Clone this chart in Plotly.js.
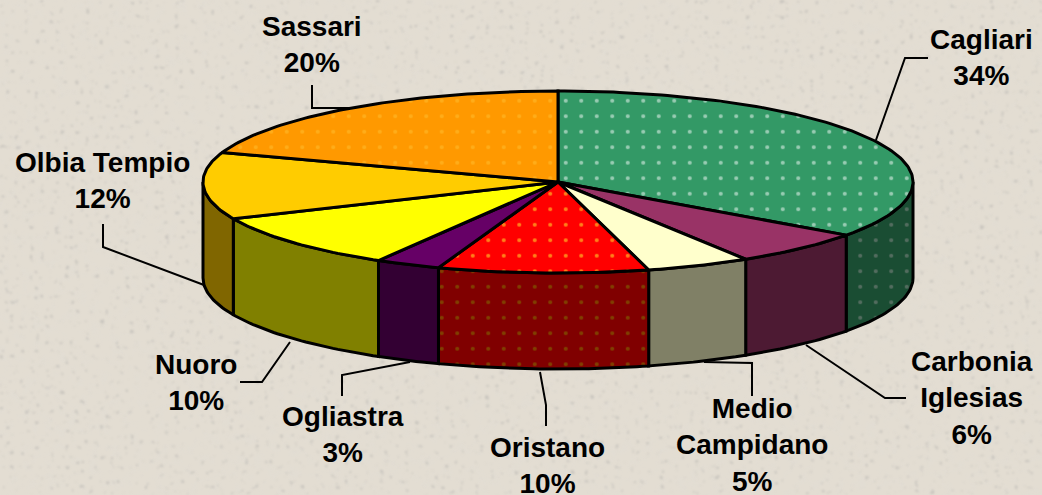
<!DOCTYPE html>
<html><head><meta charset="utf-8">
<script src="https://cdn.plot.ly/plotly-3.0.1.min.js"></script>
<style>
html,body{margin:0;padding:0;width:1042px;height:495px;overflow:hidden;background:#e2dcd1}
#bg{position:absolute;left:0;top:0}
#chart{position:absolute;left:0;top:0;width:1042px;height:495px}
</style></head><body>
<svg id="bg" width="1042" height="495" xmlns="http://www.w3.org/2000/svg">
<filter id="soft" x="0" y="0" width="100%" height="100%"><feTurbulence type="fractalNoise" baseFrequency="0.09" numOctaves="3" seed="7"/><feColorMatrix type="matrix" values="0 0 0 0 .72  0 0 0 0 .71  0 0 0 0 .69  1.5 0 0 0 -.62"/></filter>
<filter id="spec" x="0" y="0" width="100%" height="100%"><feTurbulence type="fractalNoise" baseFrequency="0.2" numOctaves="2" seed="23"/><feColorMatrix type="matrix" values="0 0 0 0 .45  0 0 0 0 .44  0 0 0 0 .42  9 0 0 0 -6.1"/><feGaussianBlur stdDeviation="0.8"/></filter>
<rect width="1042" height="495" fill="#e3ddd2"/>
<rect width="1042" height="495" filter="url(#soft)" opacity=".22"/>
<rect width="1042" height="495" filter="url(#spec)" opacity=".55"/>
</svg>
<div id="chart"></div>
<script>
// Data
const categories = ['Cagliari','Carbonia<br>Iglesias','Medio<br>Campidano','Oristano','Ogliastra','Nuoro','Olbia Tempio','Sassari'];
const values = [34, 6, 5, 10, 3, 10, 12, 20];

// Styles
const topColors  = ['#339966','#993366','#FFFFCC','#FF0000','#660066','#FFFF00','#FFCC00','#FF9900'];
const sideColors = ['#1A4D33','#4D1A33','#808066','#800000','#330033','#808000','#806600','#804D00'];
const dotTop  = ['#FFFFFF',null,null,'#FFFF33',null,null,null,'#FFC233'];
const dotSide = ['#8C8C8C',null,null,'#808000',null,null,null,'#808000'];

// Layout of the drawing (pixels of the hidden axes)
const cx = 558, cy = 182, rx = 355, ry = 91, depth = 96;
const labelPos = [[981,57],[972,398],[752,445],[547,465],[343,434],[196,382],[102,180],[312,44]];
const leaders = [
  [[876,140],[905,58],[928,58]],
  [[806,345],[885,398],[906,398]],
  [[704,362],[752,363],[752,396]],
  [[540,372],[546,405],[546,426]],
  [[410,362],[342,375],[342,396]],
  [[290,342],[262,382],[240,382]],
  [[204,285],[103,247],[103,224]],
  [[352,108],[312,108],[312,85]]
];

const total = values.reduce((a,b)=>a+b,0);
// the 3D view of the original stretches the front-right of the disc a little
const view = a => a + 1.6*Math.sin(a/2*Math.PI/180) + 2.6*Math.exp(-Math.pow((a-140)/32,2));
const px = a => cx + rx*Math.sin(a*Math.PI/180);
const py = (a,d) => cy - ry*Math.cos(a*Math.PI/180) + d;
function arc(a0,a1,d){
  const xs=[],ys=[],n=Math.max(2,Math.ceil(Math.abs(a1-a0)));
  for(let i=0;i<=n;i++){const a=a0+(a1-a0)*i/n;xs.push(px(a));ys.push(py(a,d));}
  return [xs,ys];
}
function pattern(c,bg){return c?{shape:'.',fgcolor:c,bgcolor:bg,size:15.5,solidity:0.055,fillmode:'overlay'}:undefined;}

const traces=[];
const bounds=[];let acc=0;
values.forEach(v=>{bounds.push([view(acc/total*360),view((acc+v)/total*360)]);acc+=v;});

// leader lines under the pie
leaders.forEach(l=>traces.push({type:'scatter',mode:'lines',x:l.map(p=>p[0]),y:l.map(p=>p[1]),
  line:{color:'#000',width:2},hoverinfo:'skip',showlegend:false}));

// side walls (only the front half, 90..270 degrees, is visible)
bounds.forEach((b,i)=>{
  const a0=Math.max(b[0],90),a1=Math.min(b[1],270);
  if(a1<=a0) return;
  const [tx,ty]=arc(a0,a1,0),[bx,by]=arc(a1,a0,depth);
  const t={type:'scatter',mode:'lines',x:tx.concat(bx,[tx[0]]),y:ty.concat(by,[ty[0]]),fill:'toself',
    fillcolor:sideColors[i],line:{color:'#000',width:3},hoverinfo:'skip',showlegend:false};
  const p=pattern(dotSide[i],sideColors[i]); if(p) t.fillpattern=p;
  traces.push(t);
});

// top slices
bounds.forEach((b,i)=>{
  const [ax,ay]=arc(b[0],b[1],0);
  const t={type:'scatter',mode:'lines',x:[cx].concat(ax,[cx]),y:[cy].concat(ay,[cy]),fill:'toself',
    fillcolor:topColors[i],line:{color:'#000',width:3},name:categories[i],hoverinfo:'name',showlegend:false};
  const p=pattern(dotTop[i],topColors[i]); if(p) t.fillpattern=p;
  traces.push(t);
});

const annotations=categories.map((c,i)=>({
  x:labelPos[i][0],y:labelPos[i][1],xref:'x',yref:'y',showarrow:false,align:'center',
  text:'<b>'+c.split('<br>').join('</b><br><b>')+'</b><br><b>'+values[i]+'%</b>',
  font:{family:'"Liberation Sans",Arial,sans-serif',size:28,color:'#000'}
}));

Plotly.newPlot('chart',traces,{
  width:1042,height:495,margin:{l:0,r:0,t:0,b:0},
  paper_bgcolor:'rgba(0,0,0,0)',plot_bgcolor:'rgba(0,0,0,0)',showlegend:false,
  xaxis:{range:[0,1042],visible:false,fixedrange:true},
  yaxis:{range:[495,0],visible:false,fixedrange:true},
  annotations
},{displayModeBar:false,staticPlot:true});
</script>
</body></html>
